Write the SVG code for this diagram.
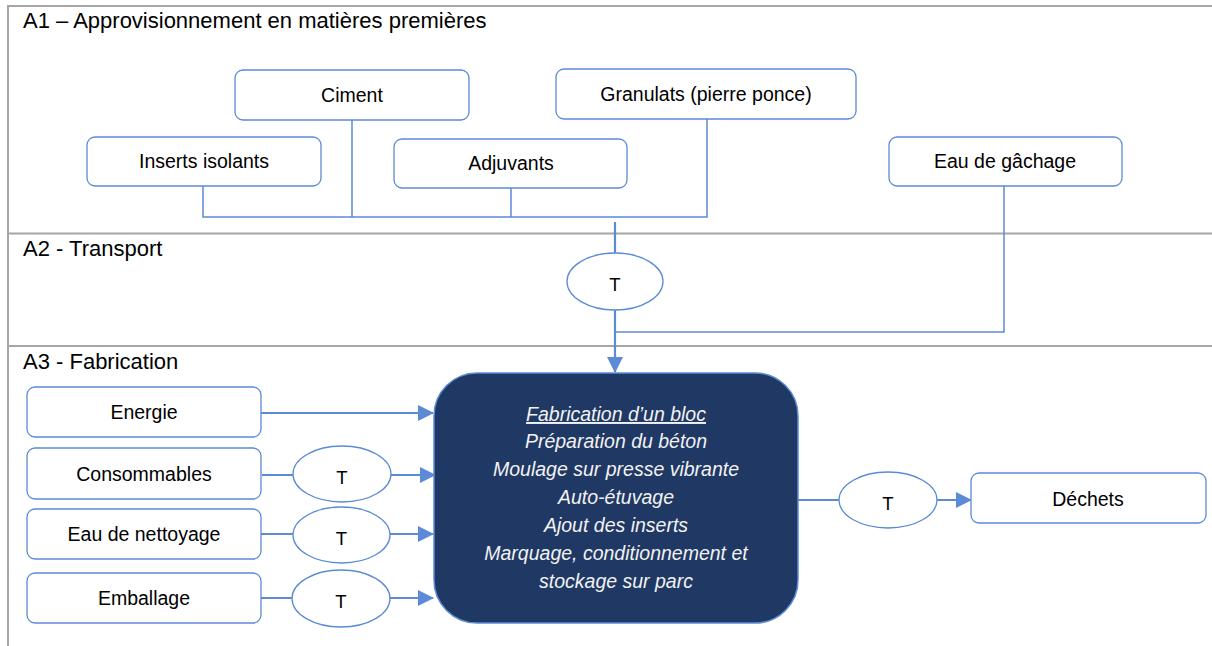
<svg xmlns="http://www.w3.org/2000/svg" width="1212" height="646" viewBox="0 0 1212 646">
<style>
.frame{stroke:#A6A6A6;stroke-width:2;fill:none}
.title{font-family:"Liberation Sans",Arial,sans-serif;font-size:22px;fill:#000}
.box{fill:#fff;stroke:#5B8BD4;stroke-width:1.3}
.lbl{font-family:"Liberation Sans",Arial,sans-serif;font-size:19.5px;fill:#000;text-anchor:middle}
.tl{font-family:"Liberation Sans",Arial,sans-serif;font-size:18.5px;fill:#000;text-anchor:middle}
.ell{fill:#fff;stroke:#5B8BD4;stroke-width:1.3}
.thin{stroke:#5B8BD4;stroke-width:1.5;fill:none}
.conn{stroke:#5B8BD4;stroke-width:2.2;fill:none}
.main{fill:#203864;stroke:#5B8BD4;stroke-width:1.5}
.mtxt{font-family:"Liberation Sans",Arial,sans-serif;font-size:19.5px;font-style:italic;fill:#F2F2F2;text-anchor:middle}
</style>
<defs>
<marker id="arr" markerWidth="16" markerHeight="16" viewBox="0 0 16 16" refX="15" refY="8" orient="auto" markerUnits="userSpaceOnUse">
<path d="M0,0 L16,8 L0,16 Z" fill="#5B8BD4"/>
</marker>
</defs>
<rect width="1212" height="646" fill="#fff"/>
<g id="frame">
<path class="frame" d="M8,646 V6 H1212 M8,233.5 H1212 M8,346 H1212"/>
<text class="title" x="23" y="28">A1 – Approvisionnement en matières premières</text>
<text class="title" x="23" y="256">A2 - Transport</text>
<text class="title" x="23" y="369">A3 - Fabrication</text>
</g>
<g id="connectors">
<path class="thin" d="M203,186 V217 H707 V119 M352,120 V217 M511,188 V217 M1004,186 V332 H615"/>
<path class="conn" d="M615,222 V253"/>
<path class="conn" d="M615,310 V372" marker-end="url(#arr)"/>
<path class="conn" d="M261,413 H433" marker-end="url(#arr)"/>
<path class="conn" d="M262,475 H293 M391,475 H435" marker-end="url(#arr)"/>
<path class="conn" d="M261,534 H293 M390,534 H433" marker-end="url(#arr)"/>
<path class="conn" d="M261,598 H292 M390,598 H433" marker-end="url(#arr)"/>
<path class="conn" d="M798,500 H839 M937,500 H971" marker-end="url(#arr)"/>
</g>
<g id="ciment"><rect class="box" x="235" y="70" width="234" height="50" rx="8"/><text class="lbl" x="352" y="102">Ciment</text></g>
<g id="granulats"><rect class="box" x="556" y="69" width="300" height="50" rx="8"/><text class="lbl" x="706" y="101">Granulats (pierre ponce)</text></g>
<g id="inserts"><rect class="box" x="87" y="137" width="234" height="49" rx="8"/><text class="lbl" x="204" y="168">Inserts isolants</text></g>
<g id="adjuvants"><rect class="box" x="394" y="139" width="233" height="49" rx="8"/><text class="lbl" x="511" y="170">Adjuvants</text></g>
<g id="eau-gachage"><rect class="box" x="889" y="137" width="233" height="49" rx="8"/><text class="lbl" x="1005" y="168">Eau de gâchage</text></g>
<g id="t-transport"><ellipse class="ell" cx="615" cy="281.5" rx="48" ry="28.5"/><text class="tl" x="615" y="291">T</text></g>
<g id="energie"><rect class="box" x="27" y="387" width="234" height="50" rx="8"/><text class="lbl" x="144" y="419">Energie</text></g>
<g id="consommables"><rect class="box" x="27" y="448" width="234" height="51" rx="8"/><text class="lbl" x="144" y="481">Consommables</text></g>
<g id="eau-nettoyage"><rect class="box" x="27" y="509" width="234" height="50" rx="8"/><text class="lbl" x="144" y="541">Eau de nettoyage</text></g>
<g id="emballage"><rect class="box" x="27" y="573" width="234" height="50" rx="8"/><text class="lbl" x="144" y="605">Emballage</text></g>
<g id="t-consommables"><ellipse class="ell" cx="342" cy="474" rx="49" ry="28"/><text class="tl" x="342" y="484">T</text></g>
<g id="t-nettoyage"><ellipse class="ell" cx="341.5" cy="535" rx="48.5" ry="28"/><text class="tl" x="341.5" y="545">T</text></g>
<g id="t-emballage"><ellipse class="ell" cx="341" cy="598.5" rx="49" ry="28.5"/><text class="tl" x="341" y="608">T</text></g>
<g id="fabrication">
<rect class="main" x="434" y="373" width="364" height="250" rx="43"/>
<text class="mtxt" x="616" y="421" text-decoration="underline">Fabrication d’un bloc</text>
<text class="mtxt" x="616" y="448">Préparation du béton</text>
<text class="mtxt" x="616" y="476">Moulage sur presse vibrante</text>
<text class="mtxt" x="616" y="504">Auto-étuvage</text>
<text class="mtxt" x="616" y="532">Ajout des inserts</text>
<text class="mtxt" x="616" y="560">Marquage, conditionnement et</text>
<text class="mtxt" x="616" y="588">stockage sur parc</text>
</g>
<g id="t-dechets"><ellipse class="ell" cx="888" cy="500" rx="49" ry="28"/><text class="tl" x="888" y="510">T</text></g>
<g id="dechets"><rect class="box" x="971" y="473" width="235" height="50" rx="8"/><text class="lbl" x="1088" y="506">Déchets</text></g>
</svg>
